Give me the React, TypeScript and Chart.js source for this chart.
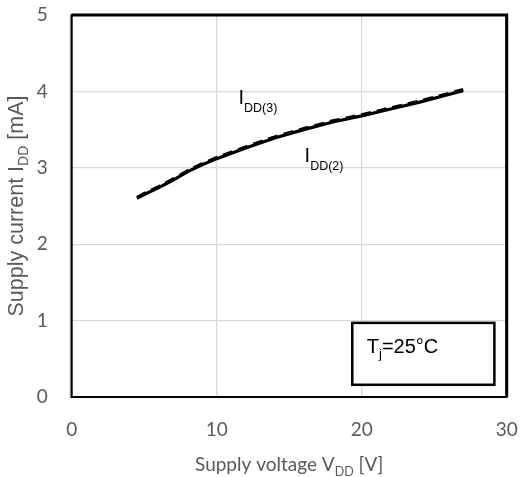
import React, { useEffect, useRef } from "react";
import { Chart, registerables } from "chart.js";

Chart.register(...registerables);

// Supply voltage V_DD [V]
const voltage = [4.5, 5, 6, 7, 8, 9, 10, 12, 14, 16, 18, 20, 22, 24, 26, 27];
// Supply current I_DD(2) [mA]
const idd2 = [2.6, 2.65, 2.74, 2.84, 2.95, 3.04, 3.12, 3.26, 3.39, 3.5, 3.6, 3.68, 3.77, 3.86, 3.96, 4.01];
// Supply current I_DD(3) [mA]
const idd3 = [2.615, 2.665, 2.755, 2.855, 2.965, 3.055, 3.135, 3.275, 3.405, 3.515, 3.615, 3.695, 3.785, 3.875, 3.975, 4.025];

const xTicks = [0, 10, 20, 30];
const yTicks = [0, 1, 2, 3, 4, 5];

const AXIS_FONT = "Lato";
const NOTE_FONT = "'Liberation Sans', Arial, sans-serif";
const GREY = "#595959";

type Run = { t: string; font: string; dy: number };

function drawRuns(ctx: CanvasRenderingContext2D, runs: Run[], x: number, y: number, align: "left" | "center") {
  let total = 0;
  for (const r of runs) {
    ctx.font = r.font;
    total += ctx.measureText(r.t).width;
  }
  let cx = align === "center" ? x - total / 2 : x;
  ctx.textAlign = "left";
  ctx.textBaseline = "alphabetic";
  for (const r of runs) {
    ctx.font = r.font;
    ctx.fillText(r.t, cx, y + r.dy);
    cx += ctx.measureText(r.t).width;
  }
}

const overlay = {
  id: "overlay",
  afterDatasetsDraw(chart: any) {
    const { ctx, chartArea: a, scales } = chart;
    const xs = scales.x;
    const ys = scales.y;
    ctx.save();

    // plot frame
    ctx.strokeStyle = "#bfbfbf";
    ctx.lineWidth = 1.5;
    ctx.beginPath();
    ctx.moveTo(a.left - 1.5, a.top);
    ctx.lineTo(a.left - 1.5, a.bottom + 1);
    ctx.stroke();
    ctx.strokeStyle = "#000";
    ctx.lineWidth = 2;
    ctx.strokeRect(a.left, a.top, a.right - a.left, a.bottom - a.top);
    ctx.lineWidth = 3;
    ctx.beginPath();
    ctx.moveTo(a.left, a.top);
    ctx.lineTo(a.right, a.top);
    ctx.lineTo(a.right, a.bottom);
    ctx.stroke();

    // temperature box
    const bx0 = xs.getPixelForValue(19.35);
    const bx1 = xs.getPixelForValue(29.15);
    const by0 = ys.getPixelForValue(0.97);
    const by1 = ys.getPixelForValue(0.16);
    ctx.fillStyle = "#fff";
    ctx.fillRect(bx0, by0, bx1 - bx0, by1 - by0);
    ctx.strokeStyle = "#000";
    ctx.lineWidth = 2.5;
    ctx.strokeRect(bx0, by0, bx1 - bx0, by1 - by0);
    ctx.fillStyle = "#000";
    drawRuns(
      ctx,
      [
        { t: "T", font: `20px ${NOTE_FONT}`, dy: 0 },
        { t: "j", font: `13px ${NOTE_FONT}`, dy: 5 },
        { t: "=25°C", font: `20px ${NOTE_FONT}`, dy: 0 },
      ],
      xs.getPixelForValue(20.35),
      ys.getPixelForValue(0.58),
      "left"
    );

    // curve labels
    drawRuns(
      ctx,
      [
        { t: "I", font: `20px ${NOTE_FONT}`, dy: 0 },
        { t: "DD(3)", font: `12.5px ${NOTE_FONT}`, dy: 8 },
      ],
      xs.getPixelForValue(11.5),
      ys.getPixelForValue(3.835),
      "left"
    );
    drawRuns(
      ctx,
      [
        { t: "I", font: `20px ${NOTE_FONT}`, dy: 0 },
        { t: "DD(2)", font: `12.5px ${NOTE_FONT}`, dy: 8 },
      ],
      xs.getPixelForValue(16.06),
      ys.getPixelForValue(3.076),
      "left"
    );

    // axis titles
    ctx.fillStyle = GREY;
    drawRuns(
      ctx,
      [
        { t: "Supply voltage V", font: `19px ${AXIS_FONT}`, dy: 0 },
        { t: "DD", font: `12.5px ${AXIS_FONT}`, dy: 5 },
        { t: " [V]", font: `19px ${AXIS_FONT}`, dy: 0 },
      ],
      (a.left + a.right) / 2,
      471,
      "center"
    );
    ctx.translate(23, (a.top + a.bottom) / 2);
    ctx.rotate(-Math.PI / 2);
    drawRuns(
      ctx,
      [
        { t: "Supply current I", font: `21.5px ${NOTE_FONT}`, dy: 0 },
        { t: "DD", font: `14px ${NOTE_FONT}`, dy: 5 },
        { t: " [mA]", font: `21.5px ${NOTE_FONT}`, dy: 0 },
      ],
      0,
      0,
      "center"
    );
    ctx.restore();
  },
};

export default function App() {
  const ref = useRef<HTMLCanvasElement>(null);

  useEffect(() => {
    if (!ref.current) return;
    const chart = new Chart(ref.current, {
      type: "line",
      data: {
        datasets: [
          {
            label: "IDD(2)",
            data: voltage.map((v, i) => ({ x: v, y: idd2[i] })),
            borderColor: "#000",
            borderWidth: 3.2,
            pointRadius: 0,
            tension: 0,
          },
          {
            label: "IDD(3)",
            data: voltage.map((v, i) => ({ x: v, y: idd3[i] })),
            borderColor: "#000",
            borderWidth: 3,
            borderDash: [10, 6],
            pointRadius: 0,
            tension: 0,
          },
        ],
      },
      options: {
        responsive: false,
        animation: false,
        layout: { padding: { left: 0, right: 13.3, top: 15, bottom: 0 } },
        plugins: { legend: { display: false }, tooltip: { enabled: false } },
        scales: {
          x: {
            type: "linear",
            min: 0,
            max: 30,
            afterBuildTicks: (s: any) => {
              s.ticks = xTicks.map((v) => ({ value: v }));
            },
            ticks: { color: GREY, font: { family: AXIS_FONT, size: 19 }, padding: 21, maxRotation: 0 },
            grid: { color: "#d9d9d9", lineWidth: 1.3, drawTicks: false },
            border: { display: false },
            afterFit: (s: any) => {
              s.height = 80;
              s.paddingLeft = 0;
              s.paddingRight = 0;
            },
          },
          y: {
            type: "linear",
            min: 0,
            max: 5,
            afterBuildTicks: (s: any) => {
              s.ticks = yTicks.map((v) => ({ value: v }));
            },
            ticks: { color: GREY, font: { family: AXIS_FONT, size: 19 }, padding: 24 },
            grid: { color: "#d9d9d9", lineWidth: 1.3, drawTicks: false },
            border: { display: false },
            afterFit: (s: any) => {
              s.width = 71.7;
              s.paddingTop = 0;
              s.paddingBottom = 0;
            },
          },
        },
      },
      plugins: [overlay],
    });
    return () => chart.destroy();
  }, []);

  return (
    <div style={{ position: "absolute", left: 0, top: 0, width: 520, height: 477, background: "#fff" }}>
      <canvas ref={ref} width={520} height={477} />
    </div>
  );
}
